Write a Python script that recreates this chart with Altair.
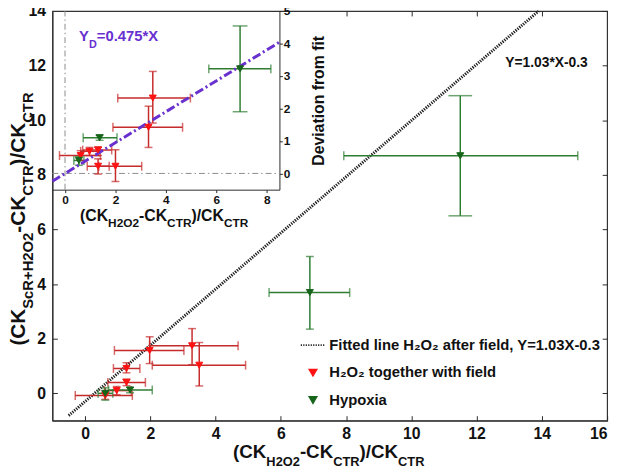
import altair as alt
import pandas as pd

# ---------------- data ----------------
FIT = "Fitted line H₂O₂ after field, Y=1.03X-0.3"
H2 = "H₂O₂ together with field"
HYP = "Hypoxia"
SERIES = [FIT, H2, HYP]

# main panel: H2O2 together with field
h2_x   = [1.98, 3.28, 3.50, 1.27, 1.27, 0.97, 0.62]
h2_y   = [1.57, 1.74, 1.03, 0.91, 0.40, 0.10, -0.08]
h2_xlo = [0.90, 1.98, 2.06, 0.87, 0.70, 0.60, -0.30]
h2_xhi = [3.03, 4.69, 4.92, 1.68, 1.85, 1.42, 1.45]
h2_ylo = [1.09, 1.05, 0.27, 0.75, 0.28, -0.05, -0.22]
h2_yhi = [2.07, 2.37, 1.86, 1.12, 0.52, 0.25, 0.08]

# main panel: hypoxia
hy_x   = [11.50, 6.89, 1.38, 0.62]
hy_y   = [8.70, 3.69, 0.12, 0.00]
hy_xlo = [7.93, 5.64, 0.72, 0.40]
hy_xhi = [15.10, 8.11, 2.06, 0.85]
hy_ylo = [6.50, 2.35, 0.02, -0.25]
hy_yhi = [10.90, 5.01, 0.22, 0.20]

# fitted line Y = 1.03 X - 0.3 (end points)
fit_x = [-0.50, 13.90]
fit_y = [-0.815, 14.00]

# inset: deviation from fit
ih_x   = [3.48, 3.31, 1.31, 0.97, 0.62, 1.31, 2.00]
ih_y   = [2.32, 1.42, 0.72, 0.68, 0.55, 0.22, 0.22]
ih_xlo = [2.09, 1.90, 0.70, 0.62, -0.22, 0.88, 1.34]
ih_xhi = [4.97, 4.66, 1.85, 1.30, 1.40, 1.75, 3.04]
ih_ylo = [1.55, 0.80, 0.55, 0.55, 0.40, -0.02, -0.25]
ih_yhi = [3.14, 2.07, 0.82, 0.80, 0.70, 0.45, 0.73]

iy_x   = [6.94, 1.37, 0.55]
iy_y   = [3.22, 1.10, 0.40]
iy_xlo = [5.70, 0.72, 0.35]
iy_xhi = [8.16, 2.06, 0.75]
iy_ylo = [1.90, 1.02, 0.25]
iy_yhi = [4.54, 1.18, 0.52]

# inset fit Y_D = 0.475 X (end points) and zero reference lines
dev_x = [-0.5, 8.5]
dev_y = [-0.24, 4.04]
ref_v_x = [0.0]
ref_v_y = [-0.5, 5.0]
ref_h_y = [0.0]
ref_h_x = [-0.5, 8.5]

main_xticks = [0, 2, 4, 6, 8, 10, 12, 14, 16]
main_yticks = [0, 2, 4, 6, 8, 10, 12, 14]
top_ticks = [8, 10, 12, 14]          # top-edge ticks not hidden by the inset
left_ticks = [0, 2, 4, 6]            # left-edge ticks not hidden by the inset
ins_xticks = [0, 2, 4, 6, 8]
ins_yticks = [0, 1, 2, 3, 4, 5]

# ---------------- styles ----------------
FONT = "Liberation Sans"
RED_M, RED_B = "#ff1212", "#c62b2b"
GRN_M, GRN_B = "#17651a", "#2f7d33"
PURPLE = "#6830cf"
INK = "#111111"
AX = "#2a2a2a"

# dotted horizontal line symbol for the legend
_segs = []
_u = -3.5
while _u < 3.45:
    _segs.append(f"M{_u:.2f},0L{_u + 0.34:.2f},0")
    _u += 0.71
DOT_PATH = "".join(_segs)

bar_color = alt.Scale(domain=[H2, HYP], range=[RED_B, GRN_B])
fill_scale = alt.Scale(domain=SERIES, range=["transparent", RED_M, GRN_M])
stroke_scale = alt.Scale(domain=SERIES, range=["#222222", RED_M, GRN_M])
shape_scale = alt.Scale(domain=SERIES, range=[DOT_PATH, "triangle-down", "triangle-down"])

LEG = alt.Legend(title=None, orient="none", legendX=256.5, legendY=331,
                 labelFontSize=15, labelFontWeight="bold", labelColor=INK,
                 labelFont=FONT, labelOffset=9, symbolSize=50,
                 symbolStrokeWidth=1.8, rowPadding=11.8, padding=0, labelLimit=500)


def pts_df(x, y, xlo, xhi, ylo, yhi, name):
    return pd.DataFrame(dict(x=x, y=y, xlo=xlo, xhi=xhi, ylo=ylo, yhi=yhi, series=name))


def caps_x(df):
    a = df[["xlo", "y", "series"]].rename(columns={"xlo": "x"})
    b = df[["xhi", "y", "series"]].rename(columns={"xhi": "x"})
    return pd.concat([a, b], ignore_index=True)


def caps_y(df):
    a = df[["x", "ylo", "series"]].rename(columns={"ylo": "y"})
    b = df[["x", "yhi", "series"]].rename(columns={"yhi": "y"})
    return pd.concat([a, b], ignore_index=True)


def panel(df, xsc, ysc, xax, yax, wide_test, wide_size):
    X = lambda f: alt.X(f"{f}:Q", scale=xsc, axis=xax)
    Y = lambda f: alt.Y(f"{f}:Q", scale=ysc, axis=yax)
    col = alt.Color("series:N", scale=bar_color, legend=None)
    hbar = alt.Chart(df).mark_rule(strokeWidth=1.5).encode(
        x=X("xlo"), x2="xhi", y=Y("y"), color=col)
    vbar = alt.Chart(df).mark_rule(strokeWidth=1.5).encode(
        x=X("x"), y=Y("ylo"), y2="yhi", color=col)
    xc = alt.Chart(caps_x(df)).mark_tick(orient="vertical", size=9, thickness=1.5).encode(
        x=X("x"), y=Y("y"), color=col)
    cy = caps_y(df)
    yc = alt.Chart(cy).transform_filter(f"!({wide_test})").mark_tick(
        orient="horizontal", size=8, thickness=1.5).encode(x=X("x"), y=Y("y"), color=col)
    ycw = alt.Chart(cy).transform_filter(wide_test).mark_tick(
        orient="horizontal", size=wide_size, thickness=1.5).encode(x=X("x"), y=Y("y"), color=col)
    pts = alt.Chart(df).mark_point(size=50, opacity=1, strokeWidth=1).encode(
        x=X("x"), y=Y("y"),
        fill=alt.Fill("series:N", scale=fill_scale, legend=LEG),
        stroke=alt.Stroke("series:N", scale=stroke_scale, legend=LEG),
        shape=alt.Shape("series:N", scale=shape_scale, legend=LEG))
    return [hbar, vbar, xc, yc, ycw, pts], X, Y


# ---------------- main panel ----------------
W_PLOT, H_PLOT = 562, 415
main_xsc = alt.Scale(domain=[-1, 16], nice=False, zero=False)
main_ysc = alt.Scale(domain=[-1, 14], nice=False, zero=False)
main_xax = alt.Axis(values=main_xticks, title=None, labelFontSize=16, labelFontWeight="bold",
                    ticks=False, labelPadding=5, grid=False)
main_yax = alt.Axis(values=main_yticks, title=None, labelFontSize=16, labelFontWeight="bold",
                    ticks=False, labelPadding=7, grid=False)

main_df = pd.concat([pts_df(h2_x, h2_y, h2_xlo, h2_xhi, h2_ylo, h2_yhi, H2),
                     pts_df(hy_x, hy_y, hy_xlo, hy_xhi, hy_ylo, hy_yhi, HYP)],
                    ignore_index=True)
main_layers, MX, MY = panel(main_df, main_xsc, main_ysc, main_xax, main_yax,
                            "datum.x > 10", 24)

fit_line = alt.Chart(pd.DataFrame({"x": fit_x, "y": fit_y})).mark_line(
    color="#1e1e1e", strokeDash=[1.3, 1.2], strokeWidth=3).encode(x=MX("x"), y=MY("y"))

main_note = alt.Chart(pd.DataFrame({"x": [12.88], "y": [12.08], "t": ["Y=1.03*X-0.3"]})).mark_text(
    align="left", baseline="middle", fontSize=14, fontWeight="bold", color=INK, font=FONT
).encode(x=MX("x"), y=MY("y"), text="t:N")

main = alt.layer(fit_line, *main_layers, main_note)


# inward frame ticks (axes pushed onto the opposite edge of the frame)
def tick_ax(orient, offset, values):
    return alt.Axis(orient=orient, offset=offset, values=values, labels=False, domain=False,
                    tickSize=5, tickWidth=1, tickColor=AX, title=None, grid=False)


ticks_a = alt.Chart(main_df).mark_point(opacity=0).encode(
    x=alt.X("x:Q", scale=main_xsc, axis=tick_ax("top", -H_PLOT, main_xticks)),
    y=alt.Y("y:Q", scale=main_ysc, axis=tick_ax("right", -W_PLOT, left_ticks)))
ticks_b = alt.Chart(main_df).mark_point(opacity=0).encode(
    x=alt.X("x:Q", scale=main_xsc, axis=tick_ax("bottom", -H_PLOT, top_ticks)),
    y=alt.Y("y:Q", scale=main_ysc, axis=tick_ax("left", -W_PLOT, main_yticks)))

# ---------------- inset panel ----------------
INS_W, INS_H = 230, 181
ins_xsc = alt.Scale(domain=[-0.5, 8.5], range=[0, INS_W], nice=False, zero=False)
ins_ysc = alt.Scale(domain=[-0.5, 5], range=[INS_H, 0], nice=False, zero=False)
ins_xax = alt.Axis(orient="bottom", offset=INS_H - H_PLOT, values=ins_xticks, title=None,
                   labelFontSize=12, labelFontWeight="bold", tickSize=3, labelPadding=2, grid=False)
ins_yax = alt.Axis(orient="right", offset=INS_W - W_PLOT, values=ins_yticks,
                   title="Deviation from fit", titleAngle=270, titleFontSize=16,
                   titleFontWeight="bold", titleColor=INK, titleX=45, titleY=INS_H / 2,
                   titleAlign="center", titleBaseline="alphabetic",
                   labelFontSize=12, labelFontWeight="bold", tickSize=3, labelPadding=1, grid=False)

ins_df = pd.concat([pts_df(ih_x, ih_y, ih_xlo, ih_xhi, ih_ylo, ih_yhi, H2),
                    pts_df(iy_x, iy_y, iy_xlo, iy_xhi, iy_ylo, iy_yhi, HYP)],
                   ignore_index=True)
ins_layers, IX, IY = panel(ins_df, ins_xsc, ins_ysc, ins_xax, ins_yax,
                           "datum.x > 5 && datum.series == 'Hypoxia'", 15)

ref_v = alt.Chart(pd.DataFrame({"x": ref_v_x, "y": [ref_v_y[0]], "y2": [ref_v_y[1]]})).mark_rule(
    color="#8c8c8c", strokeWidth=1, strokeDash=[6, 3, 1.5, 3]).encode(x=IX("x"), y=IY("y"), y2="y2")
ref_h = alt.Chart(pd.DataFrame({"y": ref_h_y, "x": [ref_h_x[0]], "x2": [ref_h_x[1]]})).mark_rule(
    color="#8c8c8c", strokeWidth=1, strokeDash=[6, 3, 1.5, 3]).encode(x=IX("x"), x2="x2", y=IY("y"))
dev_line = alt.Chart(pd.DataFrame({"x": dev_x, "y": dev_y})).mark_line(
    color=PURPLE, strokeWidth=3, strokeDash=[9, 3, 2, 3]).encode(x=IX("x"), y=IY("y"))

yd_anchor = pd.DataFrame({"x": [0.557], "y": [4.07]})
yd_main = alt.Chart(yd_anchor).mark_text(text="Y", align="left", baseline="alphabetic", fontSize=15,
                                        fontWeight="bold", color=PURPLE, font=FONT).encode(x=IX("x"), y=IY("y"))
yd_sub = alt.Chart(yd_anchor).mark_text(text="D", align="left", baseline="alphabetic", fontSize=11,
                                       fontWeight="bold", color=PURPLE, font=FONT, dx=10, dy=7
                                       ).encode(x=IX("x"), y=IY("y"))
yd_rest = alt.Chart(yd_anchor).mark_text(text="=0.475*X", align="left", baseline="alphabetic",
                                        fontSize=15, fontWeight="bold", color=PURPLE, font=FONT,
                                        dx=18, dy=0).encode(x=IX("x"), y=IY("y"))

inset = alt.layer(ref_v, ref_h, *ins_layers[:5], dev_line, ins_layers[5], yd_main, yd_sub, yd_rest)

# ---------------- axis titles with subscripts ----------------
WB = {'(': 333, ')': 333, '/': 278, '-': 333, '+': 584, 'C': 722, 'K': 722, 'T': 611,
      'R': 722, 'S': 667, 'H': 722, 'O': 778, '2': 556, 'c': 556}


def tw(s, size):
    return sum(WB[c] for c in s) / 1000.0 * size


parts_x = [("(CK", 0), ("H2O2", 1), ("-CK", 0), ("CTR", 1), (")/CK", 0), ("CTR", 1)]
parts_y = [("(CK", 0), ("ScR+H2O2", 1), ("-CK", 0), ("CTR", 1), (")/CK", 0), ("CTR", 1)]


def hpieces(parts, x0, base, subbase, f, s):
    rows, x = [], x0
    for txt, sub in parts:
        fs = s if sub else f
        rows.append(dict(t=txt, px=x, py=subbase if sub else base, fs=fs))
        x += tw(txt, fs)
    return rows


def vpieces(parts, y0, base, subbase, f, s):
    rows, y = [], y0
    for txt, sub in parts:
        fs = s if sub else f
        rows.append(dict(t=txt, px=subbase if sub else base, py=y, fs=fs))
        y -= tw(txt, fs)
    return rows


th_df = pd.DataFrame(hpieces(parts_x, 183, 453, 461, 19, 13) + hpieces(parts_x, 28, 213, 219, 16, 12))
tv_df = pd.DataFrame(vpieces(parts_y, 339, -28, -20, 21, 15))

enc = dict(x=alt.X("px:Q", scale=None, axis=None), y=alt.Y("py:Q", scale=None, axis=None),
           size=alt.Size("fs:Q", scale=None, legend=None), text="t:N")
titles_h = alt.Chart(th_df).mark_text(align="left", baseline="alphabetic", fontWeight="bold",
                                     color=INK, font=FONT).encode(**enc)
titles_v = alt.Chart(tv_df).mark_text(align="left", baseline="alphabetic", fontWeight="bold",
                                     color=INK, font=FONT, angle=270).encode(**enc)

chart = alt.layer(main, ticks_a, ticks_b, inset, titles_h, titles_v).resolve_scale(
    x="independent", y="independent"
).properties(
    width=W_PLOT, height=H_PLOT,
    padding={"left": 45, "top": 0, "right": 9, "bottom": 50},
    autosize=alt.AutoSizeParams(type="none"),
).configure(font=FONT).configure_axis(
    labelColor=INK, domainColor=AX, tickColor=AX, labelFont=FONT, titleFont=FONT
).configure_view(stroke="#333333", strokeWidth=1.2)

chart.save("out.html", embed_options={"renderer": "svg", "actions": False})
